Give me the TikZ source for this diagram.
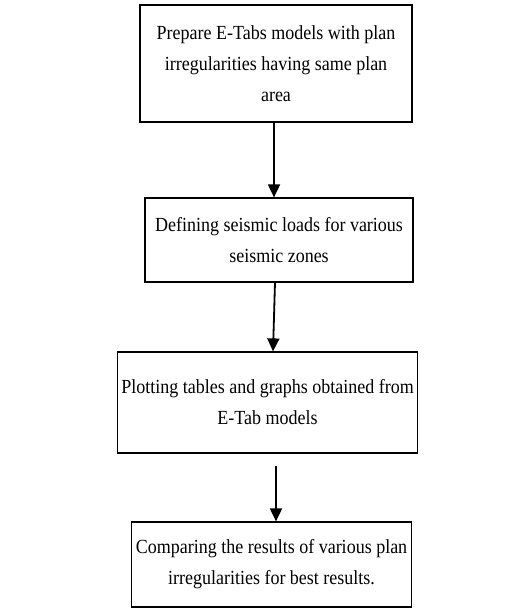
\documentclass[tikz,border=0pt]{standalone}
\usepackage{fontspec}
\setmainfont{Liberation Serif}[FakeStretch=0.9]
\usepackage{tikz}
\usetikzlibrary{arrows.meta, positioning}

\tikzset{
    stagebox/.style={draw, line width=1.2pt, align=center, inner sep=4pt,
        font=\fontsize{20}{31}\selectfont},
    flowarrow/.style={line width=1.8pt, -{Triangle[length=13pt,width=12pt]}}
}

\begin{document}
\begin{tikzpicture}[x=1pt, y=-1pt]

    \useasboundingbox (0,0) rectangle (518,613);

    % The four stages, top to bottom
    \node[stagebox, minimum width=272pt, minimum height=117pt] (prepare) at (276,63.5)
        {Prepare E-Tabs models with plan\\ irregularities having same plan\\ area};
    \node[stagebox, minimum width=268pt, minimum height=84pt] (loads) at (279,240)
        {Defining seismic loads for various\\ seismic zones};
    \node[stagebox, minimum width=299pt, minimum height=101pt] (plots) at (267.5,402.5)
        {Plotting tables and graphs obtained from\\ E-Tab models};
    \node[stagebox, minimum width=277pt, minimum height=85pt] (compare) at (271.5,564.5)
        {Comparing the results of various plan\\ irregularities for best results.};

    % Arrows between the stages
    \draw[flowarrow] ([xshift=-2pt]prepare.south) -- ([xshift=-5pt]loads.north);
    \draw[flowarrow] ([xshift=-4pt]loads.south) -- ([xshift=5.5pt]plots.north);
    \draw[flowarrow] ([xshift=8.5pt,yshift=-12pt]plots.south) -- ([xshift=4.5pt]compare.north);

\end{tikzpicture}
\end{document}
